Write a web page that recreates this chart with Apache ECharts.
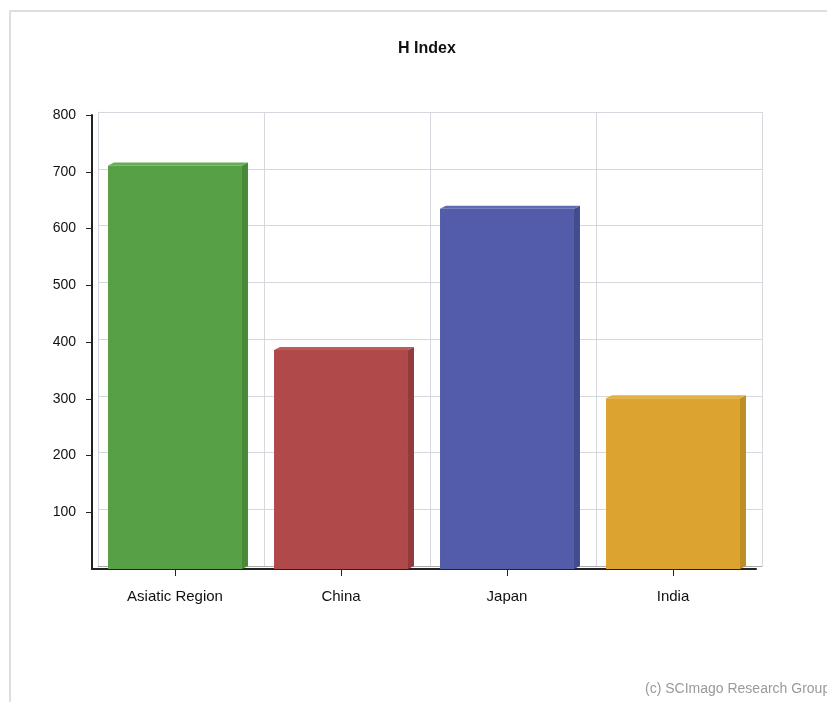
<!DOCTYPE html>
<html>
<head>
<meta charset="utf-8">
<script src="https://cdn.jsdelivr.net/npm/echarts@6/dist/echarts.min.js"></script>
<style>
html,body{margin:0;padding:0;background:#fff;}
#chart{width:827px;height:702px;}
</style>
</head>
<body>
<div id="chart"></div>
<script>
const categories = ['Asiatic Region', 'China', 'Japan', 'India'];
const hIndex = [711, 386, 635, 301];
const frontColors = ['#58a046', '#b0494a', '#525ca8', '#dca42e'];
const sideColors = ['#488a38', '#933b3c', '#434c8e', '#bf8d26'];
const topColors = ['#66ad54', '#bd5a5b', '#6069b3', '#e3b040'];
const yTicks = [100, 200, 300, 400, 500, 600, 700, 800];

const FONT = '"Liberation Sans", Arial, sans-serif';
const DX = 6, DY = 3;

const chart = echarts.init(document.getElementById('chart'), null, {renderer: 'canvas'});

const option = {
  backgroundColor: '#ffffff',
  animation: false,
  title: {
    text: 'H Index',
    left: 422,
    top: 36,
    textAlign: 'center',
    textStyle: {fontFamily: FONT, fontSize: 16, fontWeight: 'bold', color: '#111'}
  },
  graphic: [
    {type: 'rect', shape: {x: 10, y: 11, width: 830, height: 700}, style: {fill: 'none', stroke: '#dedede', lineWidth: 2}, silent: true},
    {type: 'text', left: 645, top: 682, style: {text: '(c) SCImago Research Group', fill: '#9a9a9a', font: '14px ' + FONT}}
  ],
  grid: [
    {left: 92, right: 71, top: 115, bottom: 133},
    {left: 92 + DX, right: 71 - DX, top: 115 - DY, bottom: 133 + DY}
  ],
  xAxis: [
    {
      type: 'category', gridIndex: 0, data: categories,
      axisLine: {show: true, lineStyle: {color: '#222', width: 2}},
      axisTick: {show: true, alignWithLabel: true, length: 7, lineStyle: {color: '#222'}},
      axisLabel: {color: '#111', fontFamily: FONT, fontSize: 15, margin: 20},
      splitLine: {show: false}
    },
    {
      type: 'category', gridIndex: 1, data: categories,
      axisLine: {show: true, lineStyle: {color: '#aaa', width: 1}},
      axisTick: {show: false},
      axisLabel: {show: false},
      splitLine: {show: true, lineStyle: {color: '#d6d6de', width: 1}}
    }
  ],
  yAxis: [
    {
      type: 'value', gridIndex: 0, min: 0, max: 800, interval: 100,
      axisLine: {show: true, lineStyle: {color: '#222', width: 2}},
      axisTick: {show: true, length: 6, lineStyle: {color: '#222'}, customValues: yTicks},
      axisLabel: {
        color: '#111', fontFamily: FONT, fontSize: 14, margin: 16, customValues: yTicks
      },
      splitLine: {show: false}
    },
    {
      type: 'value', gridIndex: 1, min: 0, max: 800, interval: 100,
      axisLine: {show: true, lineStyle: {color: '#d6d6de', width: 1}},
      axisTick: {show: false},
      axisLabel: {show: false},
      splitLine: {show: true, lineStyle: {color: '#d6d6de', width: 1}}
    }
  ],
  series: [{
    type: 'custom',
    xAxisIndex: 0,
    yAxisIndex: 0,
    data: hIndex.map(function (v, i) { return [i, v]; }),
    renderItem: function (params, api) {
      const i = api.value(0);
      const top = api.coord([i, api.value(1)]);
      const base = api.coord([i, 0]);
      const bw = api.size([1, 0])[0] * 0.807;
      const x0 = top[0] - bw / 2, x1 = top[0] + bw / 2;
      const yt = top[1], yb = base[1];
      return {
        type: 'group',
        children: [
          {type: 'polygon', shape: {points: [[x1, yt], [x1 + DX, yt - DY], [x1 + DX, yb - DY], [x1, yb]]},
           style: {fill: sideColors[i]}},
          {type: 'polygon', shape: {points: [[x0, yt], [x0 + DX, yt - DY], [x1 + DX, yt - DY], [x1, yt]]},
           style: {fill: topColors[i]}},
          {type: 'rect', shape: {x: x0, y: yt, width: bw, height: yb - yt},
           style: {fill: frontColors[i]}}
        ]
      };
    },
    z: 5
  }]
};
chart.setOption(option);
</script>
</body>
</html>
